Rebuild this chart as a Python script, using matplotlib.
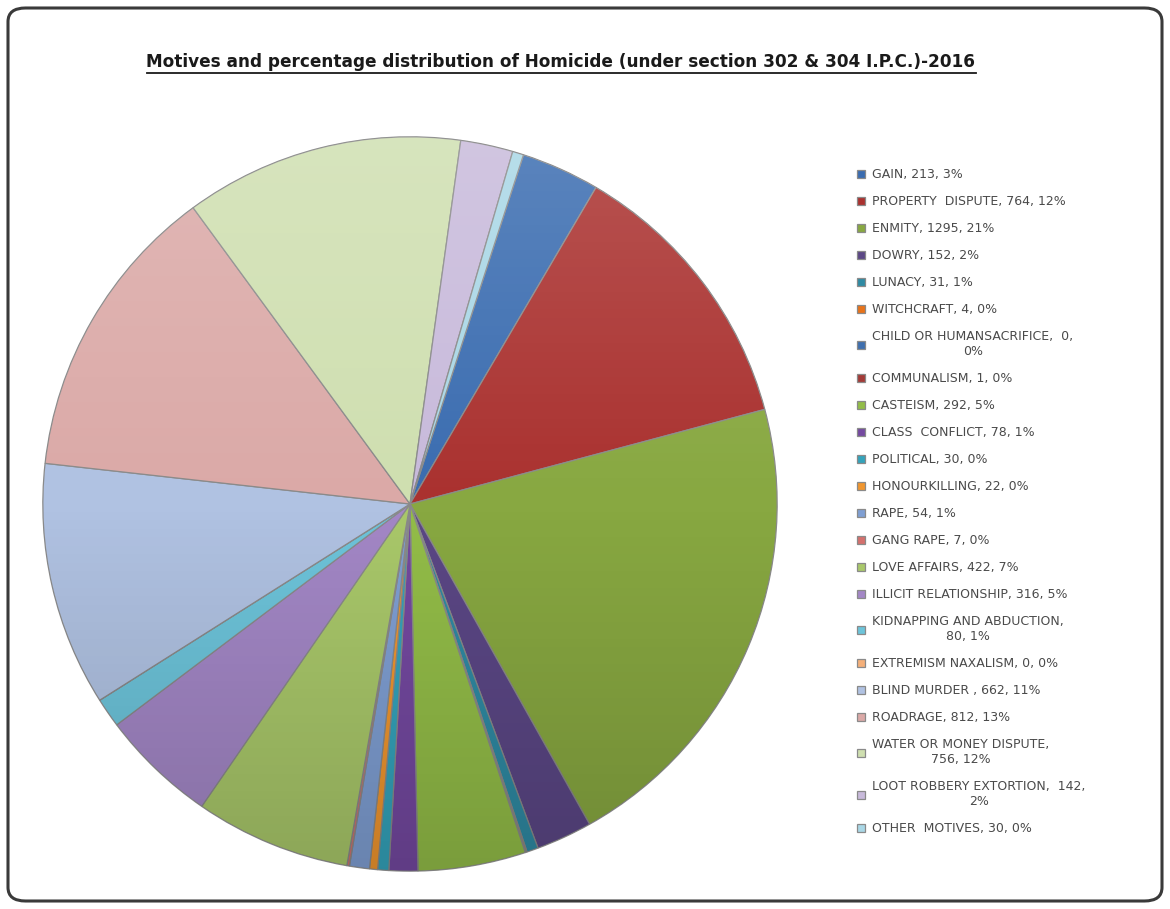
import matplotlib
matplotlib.use("Agg")
import matplotlib.pyplot as plt
import numpy as np
from matplotlib.patches import FancyBboxPatch, Circle
from matplotlib.lines import Line2D

TITLE = "Motives and percentage distribution of Homicide (under section 302 & 304 I.P.C.)-2016"

motives = [
    "GAIN", "PROPERTY  DISPUTE", "ENMITY", "DOWRY", "LUNACY", "WITCHCRAFT",
    "CHILD OR HUMANSACRIFICE", "COMMUNALISM", "CASTEISM", "CLASS  CONFLICT",
    "POLITICAL", "HONOURKILLING", "RAPE", "GANG RAPE", "LOVE AFFAIRS",
    "ILLICIT RELATIONSHIP", "KIDNAPPING AND ABDUCTION", "EXTREMISM NAXALISM",
    "BLIND MURDER ", "ROADRAGE", "WATER OR MONEY DISPUTE",
    "LOOT ROBBERY EXTORTION", "OTHER  MOTIVES",
]
cases = [213, 764, 1295, 152, 31, 4, 0, 1, 292, 78, 30, 22, 54, 7, 422, 316,
         80, 0, 662, 812, 756, 142, 30]

# where the legend text wraps: 0 = no wrap, 1 = before value, 2 = before percent
wrap_at = [0, 0, 0, 0, 0, 0, 2, 0, 0, 0, 0, 0, 0, 0, 0, 0, 1, 0, 0, 0, 1, 2, 0]

colors = [
    "#3a6cb0", "#aa312f", "#88a841", "#5b4785", "#2f8aa3", "#e8731a",
    "#3f6fae", "#a33a37", "#93bd48", "#7449a0", "#34a3bb", "#f0962f",
    "#7f9fd3", "#d4706d", "#a9c86a", "#a387c6", "#6dc4da", "#f5b07a",
    "#b0c2e2", "#dba9a7", "#cfdfb0", "#c8badb", "#a9d7e6",
]

total = sum(cases)
labels = []
for name, v, w in zip(motives, cases, wrap_at):
    pct = f"{round(v / total * 100)}%"
    if w == 1:
        labels.append(f"{name},\n{v}, {pct}")
    elif w == 2:
        labels.append(f"{name},  {v},\n{pct}")
    else:
        labels.append(f"{name}, {v}, {pct}")

W, H = 1170, 909
fig = plt.figure(figsize=(W / 100, H / 100), dpi=100)
fig.patch.set_facecolor("white")

frame = FancyBboxPatch((8 / W, 8 / H), 1154 / W, 893 / H,
                       boxstyle="round,pad=0,rounding_size=0.015",
                       transform=fig.transFigure, facecolor="none",
                       edgecolor="#3a3a3a", linewidth=2.2, zorder=-1)
fig.patches.append(frame)

cx, cy, r = 410, 504, 369
ax = fig.add_axes([(cx - r) / W, (H - cy - r) / H, 2 * r / W, 2 * r / H])
wedges, _ = ax.pie(cases, colors=colors, startangle=72, counterclock=False,
                   radius=1.0,
                   wedgeprops=dict(edgecolor="#8a8a8a", linewidth=0.9))
ax.set_aspect("equal")
ax.set_xlim(-1.005, 1.005)
ax.set_ylim(-1.005, 1.005)

# soft vertical shading like the office gradient fill
grad = np.linspace(0, 1, 256).reshape(-1, 1)
shade = np.zeros((256, 1, 4))
shade[..., :3] = np.where(grad[..., None] > 0.5, 1.0, 0.0)
shade[..., 3] = np.abs(grad - 0.5) * 0.34
img = ax.imshow(shade, extent=[-1, 1, -1, 1], origin="lower", aspect="auto",
                zorder=3, interpolation="bilinear")
img.set_clip_path(Circle((0, 0), 1.0, transform=ax.transData))

title = fig.text(561 / W, 1 - 62 / H, TITLE, ha="center", va="center",
                 fontsize=12.2, fontweight="bold", color="#1a1a1a")
fig.canvas.draw()
bb = title.get_window_extent()
fig.add_artist(Line2D([bb.x0 / W, bb.x1 / W], [(bb.y0 - 2) / H, (bb.y0 - 2) / H],
                      transform=fig.transFigure, color="#1a1a1a", linewidth=1.3))

leg = fig.legend(wedges, labels, loc="upper left",
                 bbox_to_anchor=(846 / W, 1 - 157 / H), frameon=False,
                 fontsize=9, handlelength=0.6, handleheight=0.6,
                 handletextpad=0.6, labelspacing=1.12, labelcolor="#4a4a4a")
for t in leg.get_texts():
    t.set_multialignment("center")

fig.savefig("out.png", dpi=100)
